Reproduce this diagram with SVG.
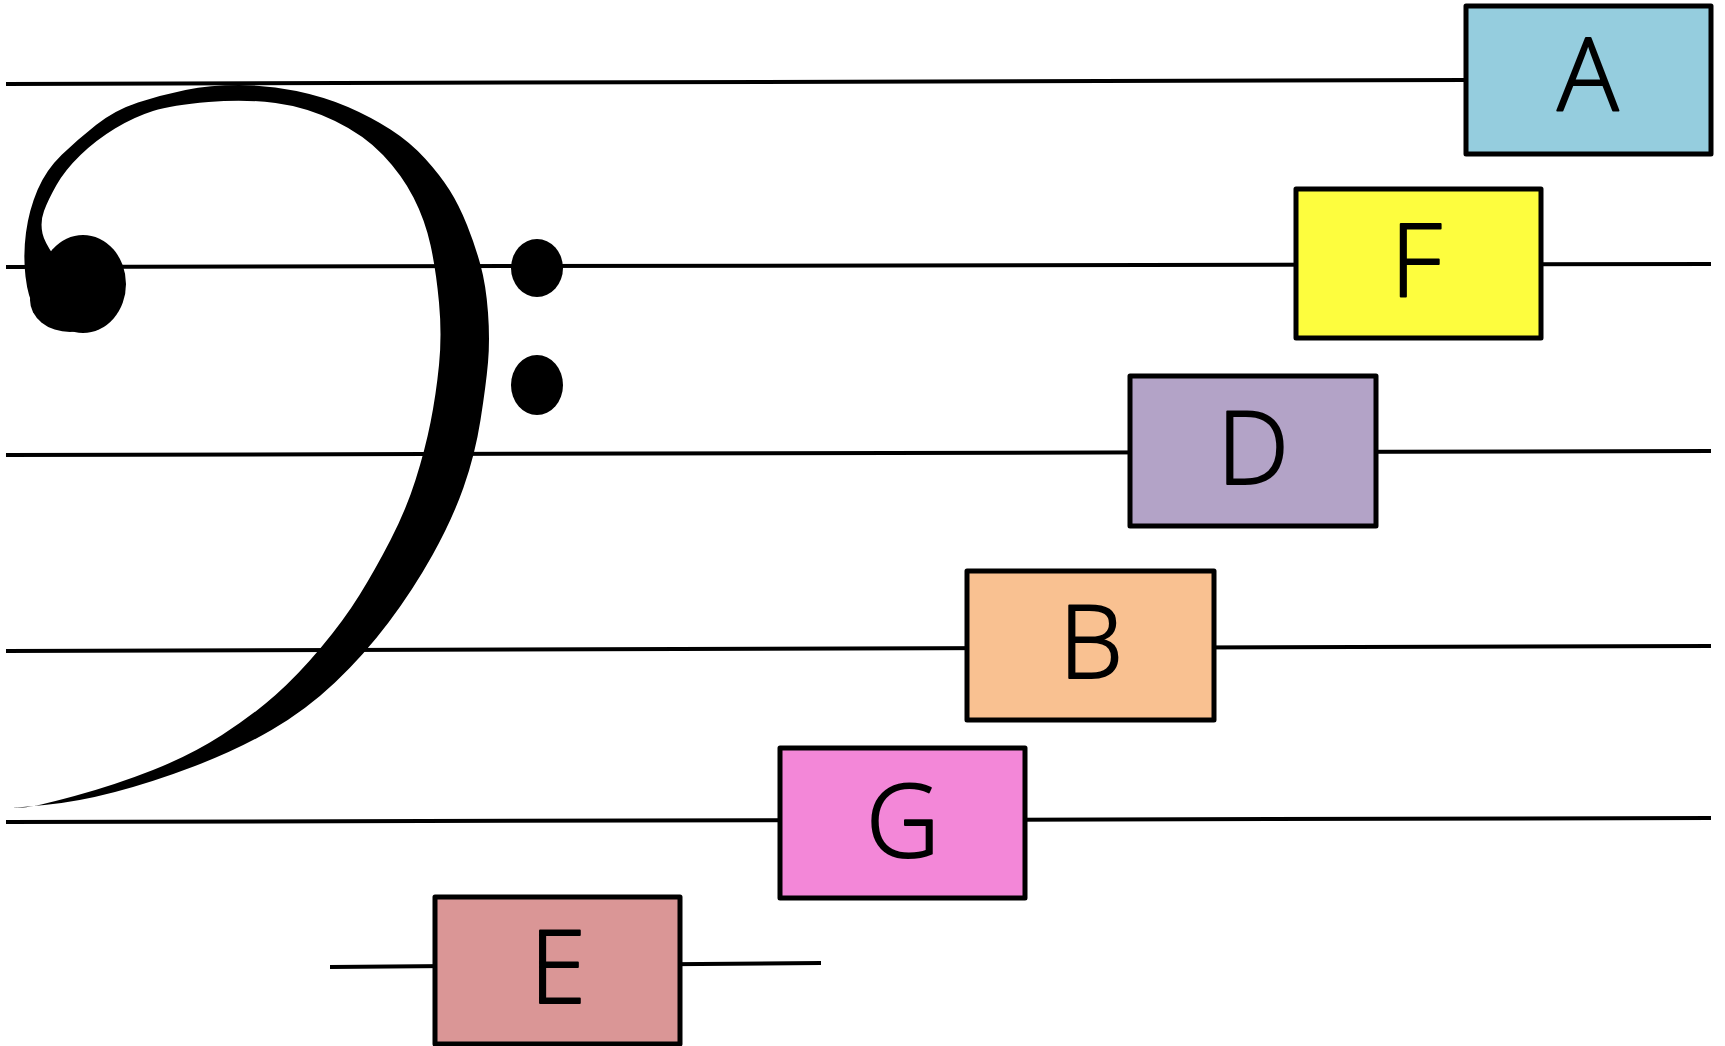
<svg xmlns="http://www.w3.org/2000/svg" width="1725" height="1046" viewBox="0 0 1725 1046">
<style>
.staff{stroke:#000;stroke-width:4;fill:none}
.box{stroke:#000;stroke-width:5;stroke-linejoin:round}
.lbl{font-family:"Open Sans","Liberation Sans",sans-serif;font-weight:300;font-size:102px;text-anchor:middle;fill:#000;stroke:#000;stroke-width:2;stroke-linejoin:round;stroke-linecap:round}
</style>
<rect width="1725" height="1046" fill="#fff"/>
<g id="connectors">
<line class="staff" x1="6" y1="84" x2="1466" y2="80"/>
<line class="staff" x1="6" y1="267" x2="1711" y2="264"/>
<line class="staff" x1="6" y1="455" x2="1711" y2="451"/>
<line class="staff" x1="6" y1="651" x2="1711" y2="646"/>
<line class="staff" x1="6" y1="822" x2="1711" y2="818"/>
<line class="staff" x1="330" y1="967" x2="821" y2="963"/>
</g>
<g id="clef">
<path fill="#000" d="M12 808 L44.5 805 Q77 802 115 792 Q153 782 195 766 Q237 750 271.5 730 Q306 710 335 682.5 Q364 655 388.5 622.5 Q413 590 432.5 555 Q452 520 463.5 487.5 Q475 455 480.5 420 Q486 385 488 362.5 Q490 340 488 312.5 Q486 285 480.5 265 Q475 245 467 225 Q459 205 449.5 190 Q440 175 425 158.5 Q410 142 390.5 129.5 Q371 117 348 107 Q325 97 296.5 91 Q268 85 239 85 Q210 85 185.5 90 Q161 95 138 102.5 Q115 110 96 125 Q77 140 61.5 155 Q46 170 37.5 190 Q29 210 26 232.5 Q23 255 25.5 276.5 Q28 298 35 309 Q42 320 52 326 Q62 331 72 329 Q84 326 82 312 Q80 290 62.5 267.5 Q45 245 42.5 233.5 Q40 222 44 211 Q48 200 56.5 185 Q65 170 80.5 155 Q96 140 115 128.5 Q134 117 153 111 Q172 105 208.5 102 Q245 99 275.5 103 Q306 107 335 121 Q364 135 383 155 Q402 175 413.5 197.5 Q425 220 430.5 245 Q436 270 439 302.5 Q442 335 439 365 Q436 395 430.5 422.5 Q425 450 415.5 480 Q406 510 390.5 540 Q375 570 359.5 595 Q344 620 321 647.5 Q298 675 275.5 695 Q253 715 222 735 Q191 755 153 770 Q115 785 74.5 796 Q34 807 23 807.5 L12 808 Z"/>
<ellipse cx="83" cy="284" rx="43" ry="49" fill="#000"/>
<ellipse cx="70" cy="300" rx="40" ry="32" fill="#000"/>
<ellipse cx="537" cy="268" rx="26" ry="29" fill="#000"/>
<ellipse cx="537" cy="385" rx="26" ry="30" fill="#000"/>
</g>
<g id="node-A">
<rect class="box" x="1466" y="6" width="245" height="148" fill="#95CDDE"/>
<text class="lbl" x="1588" y="111">A</text>
</g>
<g id="node-F">
<rect class="box" x="1296" y="189" width="245" height="149" fill="#FDFD3E"/>
<text class="lbl" x="1416" y="296">F</text>
</g>
<g id="node-D">
<rect class="box" x="1130" y="376" width="246" height="150" fill="#B3A3C7"/>
<text class="lbl" x="1253" y="484">D</text>
</g>
<g id="node-B">
<rect class="box" x="967" y="571" width="247" height="149" fill="#F9C191"/>
<text class="lbl" x="1091" y="678">B</text>
</g>
<g id="node-G">
<rect class="box" x="780" y="748" width="245" height="150" fill="#F387D8"/>
<text class="lbl" x="903" y="857">G</text>
</g>
<g id="node-E">
<rect class="box" x="435" y="897" width="245" height="147" fill="#DA9696"/>
<text class="lbl" x="558" y="1003">E</text>
</g>
</svg>
